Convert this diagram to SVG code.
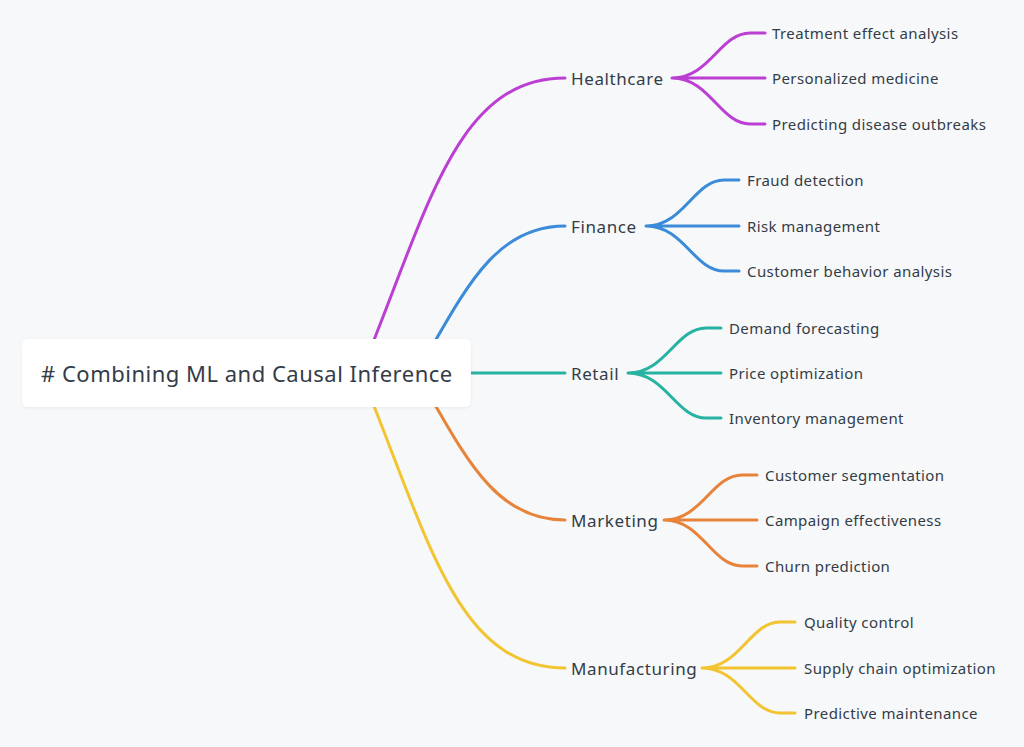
<svg xmlns="http://www.w3.org/2000/svg" width="1024" height="747" viewBox="0 0 1024 747">
<defs>
<style>
text{font-family:"Noto Sans","Liberation Sans",sans-serif;fill:#333c47;dominant-baseline:central}
.root{font-size:22px;letter-spacing:0.5px}
.br{font-size:17px;letter-spacing:0.6px}
.lf{font-size:15px;letter-spacing:0.4px}
path{fill:none;stroke-width:3;stroke-linecap:round}
.hc{stroke:#bb3fd3}.fi{stroke:#3b8bd9}.re{stroke:#27b2a2}.mk{stroke:#e7833b}.mf{stroke:#f3c431}
</style>
<filter id="sh" x="-5%" y="-20%" width="110%" height="140%"><feDropShadow dx="0" dy="1" stdDeviation="1.5" flood-color="#000" flood-opacity="0.06"/></filter>
</defs>
<rect width="1024" height="747" fill="#f7f8f9"/>
<g id="connectors">
<path class="hc" d="M370,350 C430,200 460,78 565,78"/>
<path class="fi" d="M430,350 C470,280 500,226 565,226"/>
<path class="re" d="M460,373 L565,373"/>
<path class="mk" d="M430,396 C470,466 500,520 565,520"/>
<path class="mf" d="M370,396 C430,546 460,668 565,668"/>
<path class="hc" d="M672,78 C710,78 720,33 750,33 L765,33 M672,78 L765,78 M672,78 C710,78 720,124 750,124 L765,124"/>
<path class="fi" d="M646,226 C684,226 694,180 724,180 L739,180 M646,226 L739,226 M646,226 C684,226 694,271 724,271 L739,271"/>
<path class="re" d="M628,373 C666,373 676,328 706,328 L721,328 M628,373 L721,373 M628,373 C666,373 676,418 706,418 L721,418"/>
<path class="mk" d="M664,520 C702,520 712,475 742,475 L757,475 M664,520 L757,520 M664,520 C702,520 712,566 742,566 L757,566"/>
<path class="mf" d="M702,668 C740,668 750,622 780,622 L795,622 M702,668 L795,668 M702,668 C740,668 750,713 780,713 L795,713"/>
</g>
<g id="root">
<rect x="22" y="339" width="449" height="68" rx="6" fill="#fff" filter="url(#sh)"/>
<text class="root" x="41" y="373"># Combining ML and Causal Inference</text>
</g>
<g id="healthcare"><text class="br" x="571" y="78">Healthcare</text>
<text class="lf" x="772" y="33">Treatment effect analysis</text>
<text class="lf" x="772" y="78">Personalized medicine</text>
<text class="lf" x="772" y="124">Predicting disease outbreaks</text></g>
<g id="finance"><text class="br" x="571" y="226">Finance</text>
<text class="lf" x="747" y="180">Fraud detection</text>
<text class="lf" x="747" y="226">Risk management</text>
<text class="lf" x="747" y="271">Customer behavior analysis</text></g>
<g id="retail"><text class="br" x="571" y="373">Retail</text>
<text class="lf" x="729" y="328">Demand forecasting</text>
<text class="lf" x="729" y="373">Price optimization</text>
<text class="lf" x="729" y="418">Inventory management</text></g>
<g id="marketing"><text class="br" x="571" y="520">Marketing</text>
<text class="lf" x="765" y="475">Customer segmentation</text>
<text class="lf" x="765" y="520">Campaign effectiveness</text>
<text class="lf" x="765" y="566">Churn prediction</text></g>
<g id="manufacturing"><text class="br" x="571" y="668">Manufacturing</text>
<text class="lf" x="804" y="622">Quality control</text>
<text class="lf" x="804" y="668">Supply chain optimization</text>
<text class="lf" x="804" y="713">Predictive maintenance</text></g>
</svg>
